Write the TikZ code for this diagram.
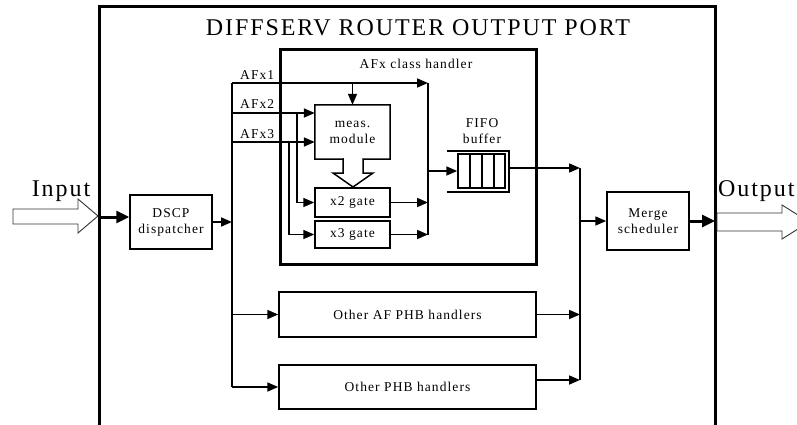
\documentclass[tikz,border=0pt]{standalone}
\usepackage{fontspec}
\usetikzlibrary{arrows.meta}
\newfontfamily\serifls{Liberation Serif}[LetterSpace=8]
\newcommand\smfont{\serifls\fontsize{13.5}{16}\selectfont}
\newcommand\bigfont{\serifls\fontsize{24}{28}\selectfont}
\tikzset{
  box/.style={draw, line width=1.5pt, inner sep=0, align=center, font=\smfont},
  txt/.style={inner sep=0, font=\smfont},
  bigtxt/.style={inner sep=0, font=\bigfont},
  conn/.style={line width=1.7pt, -{Triangle[length=11pt,width=9pt]}},
  wire/.style={line width=1.7pt},
  fat/.style={line width=3pt, -{Triangle[length=13pt,width=12pt]}},
  frame/.style={line width=3pt},
  hollow/.style={draw=black!80, line width=0.9pt, fill=white, line join=miter},
}
\begin{document}
\begin{tikzpicture}[x=1pt,y=-1pt]
\clip (0,0) rectangle (797,425);
\useasboundingbox (0,0) rectangle (797,425);

% outer port frame (open at the bottom)
\draw[frame] (99,432) -- (99,7) -- (715,7) -- (715,432);
\node[bigtxt] (title) at (418,28) {DIFFSERV ROUTER OUTPUT PORT};

% AFx class handler frame
\node[draw, frame, minimum width=256, minimum height=214, inner sep=0] (afx) at (408,157) {};
\node[txt] (afxlab) at (416,64) {AFx class handler};

% input side
\node[bigtxt, anchor=base] (inlab) at (61,196) {Input};
\draw[hollow] (13,209) -- (78,209) -- (78,199) -- (98,216) -- (78,233) -- (78,224) -- (13,224) -- cycle;
\coordinate (portIn) at (99,217);

% output side
\node[bigtxt, anchor=base west] (outlab) at (718,196) {Output};
\draw[hollow] (717,213) -- (782,213) -- (782,205) -- (809,222) -- (782,239) -- (782,231) -- (717,231) -- cycle;
\coordinate (portOut) at (715,221);

% blocks
\node[box, minimum width=82, minimum height=54] (disp) at (171,222) {DSCP\\dispatcher};
\node[box, minimum width=82, minimum height=58] (merge) at (648,221) {Merge\\scheduler};
\node[box, minimum width=75, minimum height=29] (g2) at (352.5,202.5) {x2 gate};
\node[box, minimum width=75, minimum height=27] (g3) at (352.5,234.5) {x3 gate};
\node[box, minimum width=257, minimum height=45] (oaf) at (407.5,314.5) {Other AF PHB handlers};
\node[box, minimum width=257, minimum height=44] (ophb) at (407.5,387) {Other PHB handlers};

% measurement module with its hollow arrow towards the gates
\node[txt, minimum width=75, minimum height=54, align=center] (meas) at (352.5,132) {meas.\\module};
\draw[line width=1.5pt, line join=miter] (meas.north west) -- (meas.north east) -- (meas.south east)
  -- (363,159) -- (363,173) -- (373,173) -- (353,187) -- (333,173) -- (343,173) -- (343,159)
  -- (meas.south west) -- cycle;

% FIFO buffer
\node[draw, line width=1.5pt, minimum width=47, minimum height=34, inner sep=0] (fifo) at (481.5,171) {};
\foreach \x in {470,482,494} \draw[line width=1.5pt] (\x,154) -- (\x,188);
\draw[line width=1.5pt] (447,151) -- (509,151) -- (509,192) -- (447,192);
\node[txt, align=center] (fifolab) at (482,131) {FIFO\\buffer};

% buses
\coordinate (lbT) at (232,83);
\coordinate (lbB) at (232,387);
\coordinate (ibT) at (428,83);
\coordinate (ibB) at (428,235);
\coordinate (rbT) at (580,168);
\coordinate (rbB) at (580,380);
\draw[wire] (lbT) -- (lbB);
\draw[wire] (ibT) -- (ibB);
\draw[wire] (rbT) -- (rbB);

% input into dispatcher and on to the bus
\draw[fat] (portIn) -- (disp.west |- portIn);
\draw[conn] (disp.east) -- (disp.east -| lbT);

% AFx flows
\coordinate (a2) at (232,113);
\coordinate (a3) at (232,142);
\node[txt, anchor=base west] (l1) at (240,80) {AFx1};
\node[txt, anchor=base west] (l2) at (240,109) {AFx2};
\node[txt, anchor=base west] (l3) at (240,139) {AFx3};
\draw[conn] (lbT) -- (ibT);
\draw[conn] (meas.north |- lbT) -- (meas.north);
\draw[conn] (a2) -- (a2 -| meas.west);
\draw[conn] (a3) -- (a3 -| meas.west);
\draw[conn] (a2 -| 297,0) |- (g2.west);
\draw[conn] (a3 -| 289,0) |- (g3.west);
\draw[conn] (g2.east) -- (g2.east -| ibT);
\draw[conn] (g3.east) -- (g3.east -| ibT);
\draw[conn] (fifo.west -| ibT) -- (fifo.west);
\draw[conn] (509,168) -- (rbT);

% other handlers
\draw[conn] (oaf.west -| lbT) -- (oaf.west);
\draw[conn] (lbB) -- (ophb.west);
\draw[conn] (oaf.east) -- (oaf.east -| rbT);
\draw[conn] (ophb.east |- rbB) -- (rbB);

% merge and output
\draw[conn] (merge.west -| rbT) -- (merge.west);
\draw[fat] (merge.east) -- (portOut);
\end{tikzpicture}
\end{document}
